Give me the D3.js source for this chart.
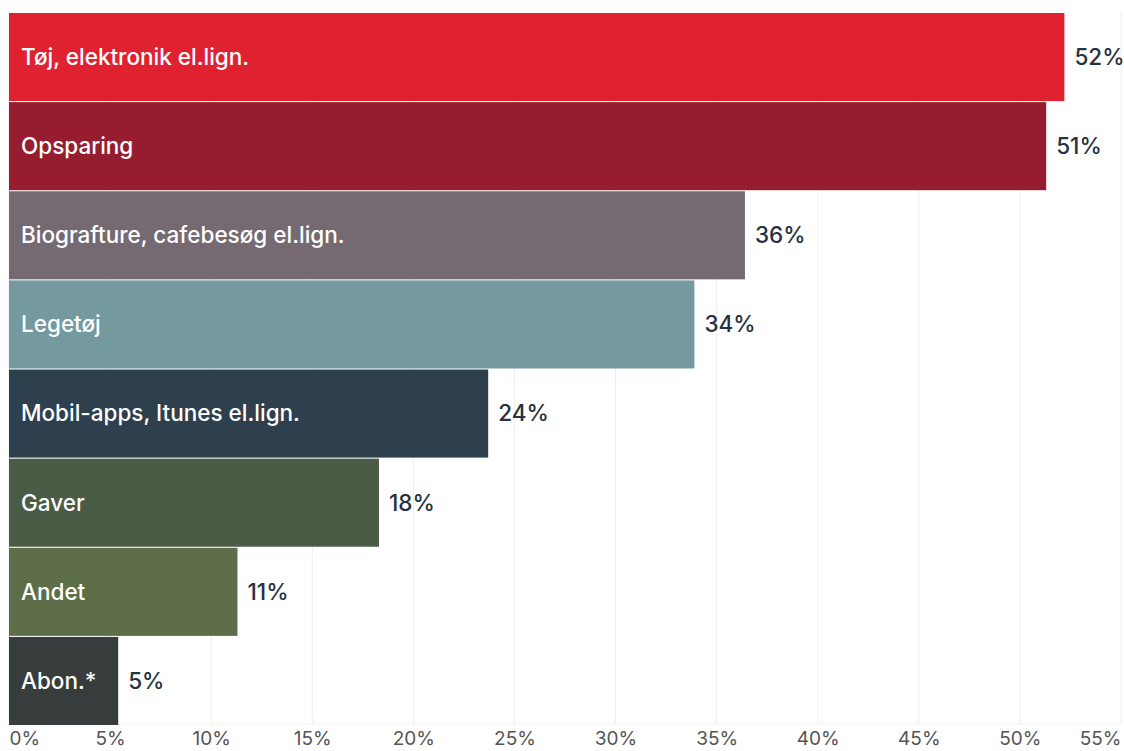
<!DOCTYPE html>
<html>
<head>
<meta charset="utf-8">
<script src="https://cdn.jsdelivr.net/npm/d3@7"></script>
<style>
  html, body { margin: 0; padding: 0; background: #ffffff; }
  svg { display: block; }
  text { font-family: Inter, "Noto Sans", sans-serif; }
</style>
</head>
<body>
<svg id="chart" width="1124" height="751"></svg>
<script>
// Hvad bruger børn deres lommepenge på (andel i procent)
const categories = [
  "Tøj, elektronik el.lign.",
  "Opsparing",
  "Biografture, cafebesøg el.lign.",
  "Legetøj",
  "Mobil-apps, Itunes el.lign.",
  "Gaver",
  "Andet",
  "Abon.*"
];
const shares = [52.2, 51.3, 36.4, 33.9, 23.7, 18.3, 11.3, 5.4];
const barColors = ["#e0212f", "#961d30", "#766a72", "#74999e", "#2e404d", "#4a5b46", "#5e6e49", "#373c3c"];
const tickValues = [0, 5, 10, 15, 20, 25, 30, 35, 40, 45, 50, 55];

const rows = categories.map((c, i) => ({ name: c, value: shares[i], color: barColors[i] }));

const svg = d3.select("#chart");
const plotLeft = 9, plotRight = 1121, plotTop = 13, plotBottom = 725;

const x = d3.scaleLinear().domain([0, 55]).range([plotLeft, plotRight]);
const y = d3.scaleBand().domain(categories).range([plotTop, plotBottom]).paddingInner(0.012).paddingOuter(0);

// gridlines
const grid = svg.append("g");
grid.selectAll("line")
  .data(tickValues)
  .join("line")
  .attr("x1", d => x(d)).attr("x2", d => x(d))
  .attr("y1", plotTop).attr("y2", plotBottom)
  .attr("stroke", "#eeeeee")
  .attr("stroke-width", 1);

grid.append("line")
  .attr("x1", plotLeft).attr("x2", plotRight)
  .attr("y1", plotBottom - 1).attr("y2", plotBottom - 1)
  .attr("stroke", "#f2f2f2");

// bars
svg.append("g").selectAll("rect")
  .data(rows)
  .join("rect")
  .attr("x", x(0))
  .attr("y", d => y(d.name))
  .attr("width", d => x(d.value) - x(0))
  .attr("height", y.bandwidth())
  .attr("fill", d => d.color);

// category names inside bars
svg.append("g").selectAll("text")
  .data(rows)
  .join("text")
  .attr("x", x(0) + 12)
  .attr("y", d => y(d.name) + y.bandwidth() / 2)
  .attr("dy", "0.35em")
  .attr("fill", "#ffffff")
  .attr("font-size", 22.5)
  .attr("font-weight", 500)
  .text(d => d.name);

// value labels
const fmt = d => d3.format(".0f")(d) + "%";
svg.append("g").selectAll("text")
  .data(rows)
  .join("text")
  .attr("x", d => x(d.value) + 10)
  .attr("y", d => y(d.name) + y.bandwidth() / 2)
  .attr("dy", "0.35em")
  .attr("fill", "#26323f")
  .attr("font-size", 22.5)
  .attr("font-weight", 500)
  .text(d => fmt(d.value));

// x axis
const axis = d3.axisBottom(x).tickValues(tickValues).tickSize(0).tickFormat(d => d + "%");
const gx = svg.append("g").attr("transform", `translate(0,${plotBottom})`).call(axis);
gx.select(".domain").remove();
gx.selectAll("text")
  .attr("y", 0)
  .attr("dy", "1.05em")
  .attr("font-family", "Inter, 'Noto Sans', sans-serif")
  .attr("font-size", 19)
  .attr("fill", "#555555")
  .attr("text-anchor", (d, i) => i === 0 ? "start" : (i === tickValues.length - 1 ? "end" : "middle"));
</script>
</body>
</html>
